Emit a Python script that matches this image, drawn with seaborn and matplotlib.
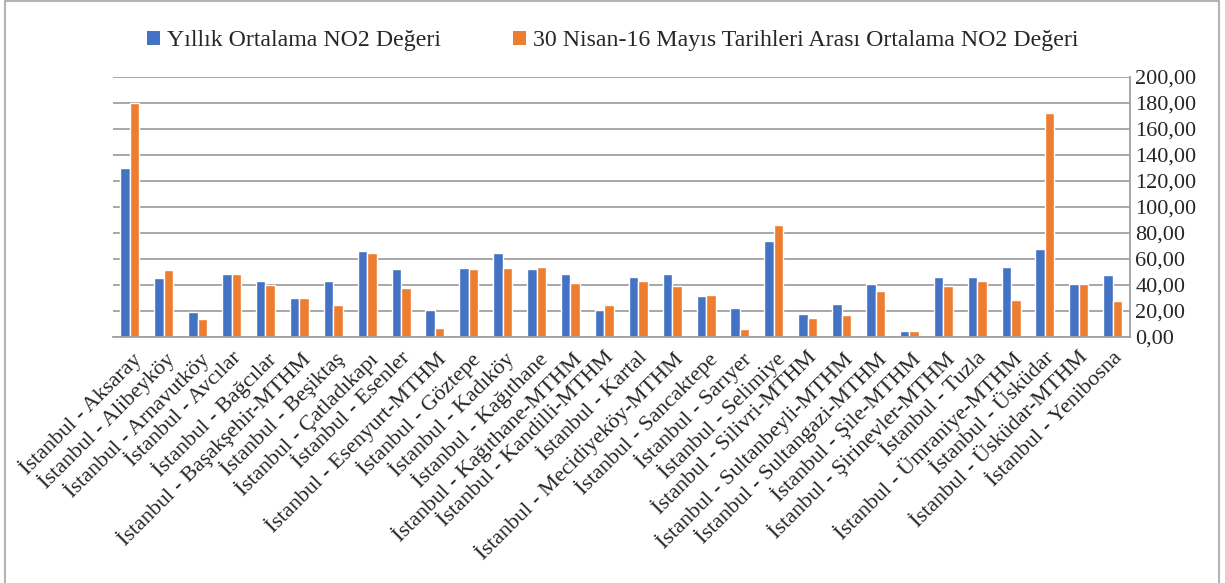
import pandas as pd
import numpy as np
import matplotlib
matplotlib.use("Agg")
import matplotlib.pyplot as plt
from matplotlib.patches import Patch, Rectangle
import seaborn as sns

# istasyon adlari
istasyonlar = [
    "İstanbul - Aksaray", "İstanbul - Alibeyköy", "İstanbul - Arnavutköy",
    "İstanbul - Avcılar", "İstanbul - Bağcılar", "İstanbul - Başakşehir-MTHM",
    "İstanbul - Beşiktaş", "İstanbul - Çatladıkapı", "İstanbul - Esenler",
    "İstanbul - Esenyurt-MTHM", "İstanbul - Göztepe", "İstanbul - Kadıköy",
    "İstanbul - Kağıthane", "İstanbul - Kağıthane-MTHM", "İstanbul - Kandilli-MTHM",
    "İstanbul - Kartal", "İstanbul - Mecidiyeköy-MTHM", "İstanbul - Sancaktepe",
    "İstanbul - Sarıyer", "İstanbul - Selimiye", "İstanbul - Silivri-MTHM",
    "İstanbul - Sultanbeyli-MTHM", "İstanbul - Sultangazi-MTHM", "İstanbul - Şile-MTHM",
    "İstanbul - Şirinevler-MTHM", "İstanbul - Tuzla", "İstanbul - Ümraniye-MTHM",
    "İstanbul - Üsküdar", "İstanbul - Üsküdar-MTHM", "İstanbul - Yenibosna",
]

yillik = [130.1, 45.0, 19.0, 48.8, 43.4, 29.6, 42.7, 66.1, 52.2, 20.6,
          53.0, 64.5, 52.2, 48.1, 20.6, 46.3, 48.8, 31.9, 22.6, 74.0,
          17.5, 25.7, 40.6, 4.9, 46.0, 46.5, 54.0, 67.9, 41.1, 47.3]

nisan_mayis = [180.0, 51.2, 14.1, 48.8, 39.8, 30.3, 24.4, 64.5, 37.5, 6.7,
               51.9, 53.0, 53.5, 41.9, 24.9, 43.4, 39.3, 32.6, 6.4, 86.4,
               14.9, 17.0, 35.2, 4.4, 39.3, 42.9, 28.8, 172.2, 41.1, 28.0]

seriler = ["Yıllık Ortalama NO2 Değeri",
           "30 Nisan-16 Mayıs Tarihleri Arası Ortalama NO2 Değeri"]
renkler = ["#4472C4", "#ED7D31"]

df = pd.DataFrame({
    "istasyon": istasyonlar * 2,
    "deger": yillik + nisan_mayis,
    "seri": [seriler[0]] * len(istasyonlar) + [seriler[1]] * len(istasyonlar),
})

sns.set_style("white")
plt.rcParams["font.family"] = ["Liberation Serif", "DejaVu Serif"]

fig = plt.figure(figsize=(12.25, 5.83), dpi=100)
ax = fig.add_axes([0.0922, 0.422, 0.830, 0.446])

sns.barplot(data=df, x="istasyon", y="deger", hue="seri", palette=renkler,
            width=0.56, saturation=1, ax=ax, legend=False)

ax.set_xlim(-0.5, len(istasyonlar) - 0.5)
ax.set_ylim(0, 200)
ax.set_yticks(np.arange(0, 201, 20))
ax.set_yticklabels([f"{v:.2f}".replace(".", ",") for v in np.arange(0, 201, 20)], fontsize=16)
ax.yaxis.tick_right()
ax.tick_params(axis="y", length=0, pad=4)
ax.grid(axis="y", color="#a0a0a0", linewidth=1.3)
ax.set_axisbelow(True)

for s in ["left", "top"]:
    ax.spines[s].set_visible(False)
ax.spines["bottom"].set_color("#a0a0a0")
ax.spines["bottom"].set_linewidth(1.3)
ax.spines["right"].set_color("#a0a0a0")
ax.spines["right"].set_linewidth(1.3)

ax.set_xticks(np.arange(len(istasyonlar)))
ax.set_xticklabels(istasyonlar, rotation=45, ha="right", va="top",
                   rotation_mode="anchor", fontsize=16)
ax.tick_params(axis="x", which="major", length=0, pad=8)
ax.set_xticks(np.arange(-0.5, len(istasyonlar)), minor=True)
ax.tick_params(axis="x", which="minor", length=6, color="#a0a0a0", width=1.3)
ax.set(xlabel="", ylabel="")

handles = [Patch(facecolor=c, edgecolor="none") for c in renkler]
fig.legend(handles, seriler, loc="center", bbox_to_anchor=(0.5, 0.93), ncol=2,
           frameon=False, fontsize=17.2, handlelength=0.55, handleheight=0.55,
           handletextpad=0.3, columnspacing=3.0)

fig.patches.append(Rectangle((0.004, -0.01), 0.991, 1.008, transform=fig.transFigure,
                             fill=False, edgecolor="#b4b4b4", linewidth=1.5))

fig.savefig("out.png", dpi=100)
